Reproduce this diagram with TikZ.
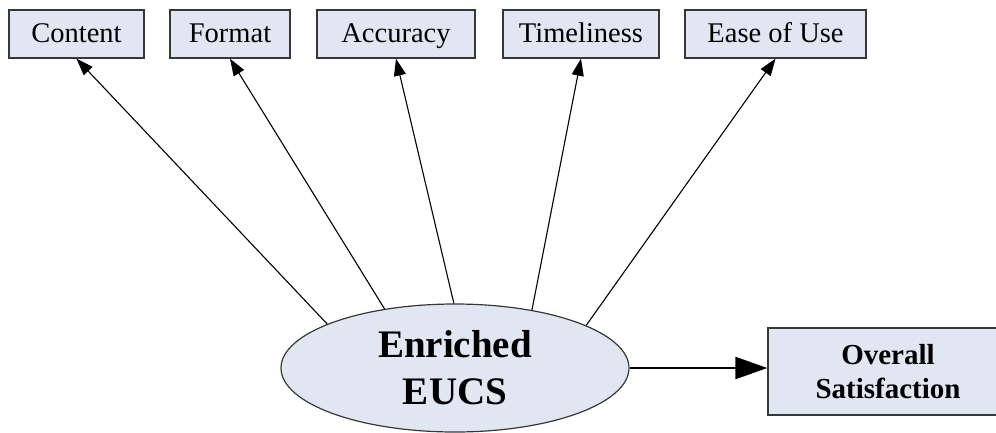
\documentclass[tikz,border=0pt]{standalone}
\usepackage{fontspec}
\setmainfont{Liberation Serif}[BoldFont={Liberation Serif Bold}]
\usetikzlibrary{shapes.geometric,arrows.meta}
\definecolor{boxfill}{RGB}{225,230,243}
\definecolor{edge}{RGB}{55,55,55}
\tikzset{
  topbox/.style={draw=edge, line width=1.4pt, fill=boxfill, minimum height=48pt, inner sep=0pt, text height=21pt, text depth=5pt, font=\fontsize{28.5}{31}\selectfont},
  arr/.style={line width=1.1pt, -{Triangle[length=17pt,width=12pt]}},
  bigarr/.style={line width=2.6pt, -{Triangle[length=32pt,width=22pt]}},
}
\begin{document}
\begin{tikzpicture}[x=1pt,y=-1pt]
\useasboundingbox (0,0) rectangle (996,432);
\node[topbox, minimum width=135pt] (C) at (76.5,34) {Content};
\node[topbox, minimum width=120pt] (F) at (230,34) {Format};
\node[topbox, minimum width=158pt] (A) at (396,34) {Accuracy};
\node[topbox, minimum width=156pt] (T) at (581,34) {Timeliness};
\node[topbox, minimum width=181pt] (U) at (775.5,34) {Ease of Use};
\node[ellipse, draw=edge, line width=1.2pt, fill=boxfill, minimum width=348pt, minimum height=128pt, inner sep=0pt, align=center, font=\fontsize{39}{47}\selectfont\bfseries] (E) at (455,368) {Enriched\\EUCS};
\node[draw=edge, line width=1.4pt, fill=boxfill, minimum width=240pt, minimum height=87pt, inner sep=0pt, align=center, font=\fontsize{29}{34}\selectfont\bfseries] (O) at (888,371.5) {Overall\\Satisfaction};
\draw[arr] (E.161) -- (C.south);
\draw[arr] (E.140) -- (F.south);
\draw[arr] (E.91) -- (A.south);
\draw[arr] (E.37) -- (T.south);
\draw[arr] (E.18.6) -- (U.south);
\draw[bigarr] (E.east) -- (E.east -| O.west);
\end{tikzpicture}
\end{document}
